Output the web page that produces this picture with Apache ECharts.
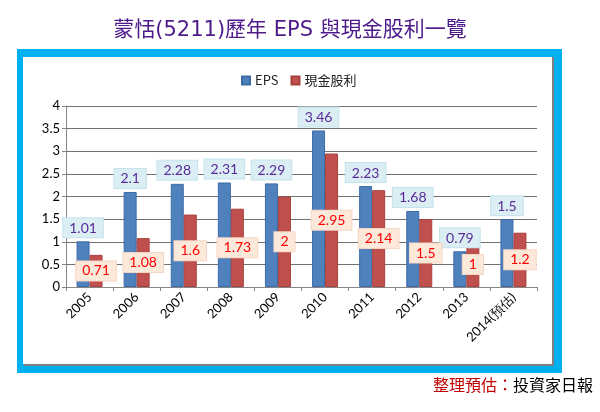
<!DOCTYPE html>
<html><head><meta charset="utf-8">
<script src="https://cdn.jsdelivr.net/npm/echarts@6/dist/echarts.min.js"></script>
<style>html,body{margin:0;padding:0;background:#fff}#c{width:600px;height:412px}</style>
</head><body><div id="c"></div>
<script>
const categories = ['2005','2006','2007','2008','2009','2010','2011','2012','2013','2014(預估)'];
const epsValues = [1.01, 2.1, 2.28, 2.31, 2.29, 3.46, 2.23, 1.68, 0.79, 1.5];
const dividendValues = [0.71, 1.08, 1.6, 1.73, 2, 2.95, 2.14, 1.5, 1, 1.2];
const seriesNames = ['EPS', '現金股利'];
const titleText = '蒙恬(5211)歷年 EPS 與現金股利一覽';

const chart = echarts.init(document.getElementById('c'), null, {renderer:'canvas'});
const cjk = '"Noto Sans CJK TC", "Noto Sans", sans-serif';
const titleFont = '"DejaVu Sans", "Noto Sans CJK TC", sans-serif';
const numFont = 'Lato, "Noto Sans", sans-serif';
chart.setOption({
  animation: false,
  graphic: [
    {type:'rect', shape:{x:17,y:49,width:545,height:324}, style:{fill:'#00B0F0'}, z:-10},
    {type:'rect', shape:{x:24,y:57,width:530,height:309}, style:{fill:'#808080'}, z:-9},
    {type:'rect', shape:{x:23,y:57,width:529,height:307}, style:{fill:'#ffffff'}, z:-8},
    {type:'text', x:290, y:31, style:{text:titleText, fill:'#4E1A8A', fontSize:21, fontFamily:titleFont,
      textAlign:'center', textVerticalAlign:'middle'}},
    {type:'text', right:7, top:377, style:{text:'{a|整理預估：}{b|投資家日報}', rich:{
      a:{fill:'#C00000', fontSize:16, fontFamily:cjk},
      b:{fill:'#000000', fontSize:16, fontFamily:cjk}}}}
  ],
  legend: {data: seriesNames, left: 236, top: 69, itemWidth: 8, itemHeight: 8, itemGap: 12,
    icon:'rect', textStyle:{fontSize:13, color:'#222', fontFamily:cjk}},
  grid: {left: 66, right: 63, top: 106, bottom: 125, containLabel:false},
  xAxis: {type:'category', data: categories,
    axisLine:{lineStyle:{color:'#868686'}},
    axisTick:{show:true, length:4, lineStyle:{color:'#868686'}},
    axisLabel:{rotate:45, fontSize:13, color:'#000', fontFamily:numFont, margin:8, interval:0}},
  yAxis: {type:'value', min:0, max:4, interval:0.5,
    axisLine:{show:true, lineStyle:{color:'#868686'}},
    axisTick:{show:true, length:4, lineStyle:{color:'#868686'}},
    splitLine:{lineStyle:{color:'#707070'}},
    axisLabel:{fontSize:13, color:'#000', fontFamily:numFont, margin:6}},
  series: [
    {name: seriesNames[0], type:'bar', data: epsValues, barWidth:13, barGap:'0%',
      itemStyle:{color:'#4F81BD', borderColor:'#3C6CA8', borderWidth:1},
      label:{show:true, position:'top', distance:4, color:'#5A2A9A', fontSize:14, fontFamily:numFont,
        backgroundColor:'#DAEEF3', borderColor:'#C5E3EC', borderWidth:1, padding:[3,6,2,6]}},
    {name: seriesNames[1], type:'bar', data: dividendValues, barWidth:13,
      itemStyle:{color:'#C0504D', borderColor:'#A8403D', borderWidth:1},
      label:{show:true, position:'inside', color:'#FF0000', fontSize:14, fontFamily:numFont,
        backgroundColor:'#FDE9D9', borderColor:'#F5D5C5', borderWidth:1, padding:[3,6,2,6]}}
  ]
});
</script></body></html>
